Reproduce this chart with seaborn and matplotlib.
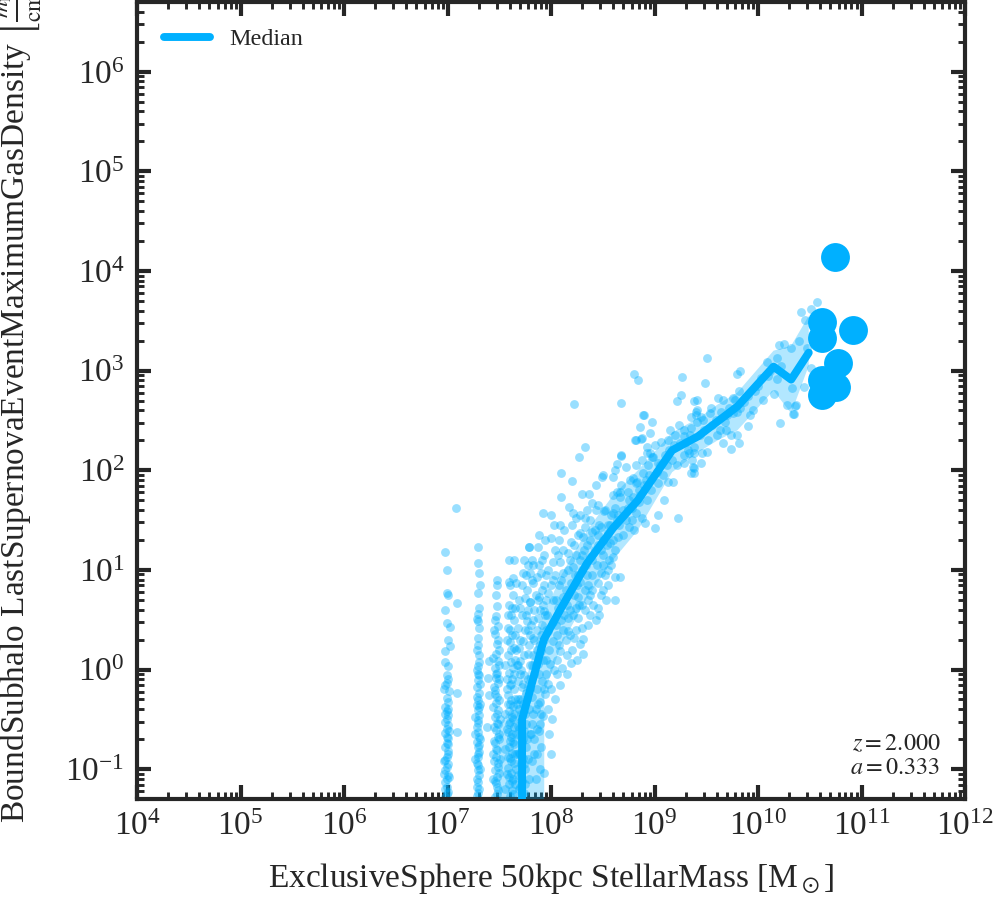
import numpy as np
import pandas as pd
import matplotlib
matplotlib.use("Agg")
import matplotlib.pyplot as plt
import seaborn as sns
from matplotlib.ticker import LogLocator, NullFormatter

# ---------------- data (log10 values) ----------------
# scatter: (log10 M*, log10 rho)
strip1 = [(6.98,1.18),(6.99,1.00),(6.99,0.77),(7.00,0.75),(7.09,0.67),(6.98,0.60),(6.99,0.47),(7.02,0.43),
          (7.02,0.24),(6.98,0.19),(7.00,0.04),(6.99,-0.06),(7.00,-0.10),(6.98,-0.16),(7.01,-0.22),(7.09,-0.24),
          (6.99,-0.29),(7.00,-0.33),(6.98,-0.38),(6.99,-0.42),(7.00,-0.46),(6.99,-0.50),(6.98,-0.53),(7.00,-0.56),
          (7.09,-0.63),(6.99,-0.60),(6.98,-0.64),(7.00,-0.69),(6.99,-0.74),(6.98,-0.78),(7.00,-0.82),(6.99,-0.88),
          (6.98,-0.91),(7.00,-0.95),(6.99,-0.98),(6.98,-1.01),(7.00,-1.06),(6.99,-1.10),(6.98,-1.13),(6.99,-1.18),
          (7.00,-1.23),(6.98,-1.28),(7.08,1.62),
          (6.97,-0.20),(6.98,-0.45),(6.99,-0.68),(7.00,-0.85),(6.97,-1.05),(6.98,-1.20),(7.01,-0.62),(7.00,-0.40),
          (6.99,-0.14),(6.98,0.08),(7.00,0.30),(6.97,-0.92),(6.99,-1.25),(7.01,-1.08),(7.00,-0.75)]
strip2 = [(7.29,1.23),(7.29,1.07),(7.30,0.97),(7.31,0.85),(7.29,0.77),(7.30,0.62),(7.29,0.56),(7.29,0.49),
          (7.30,0.42),(7.29,0.32),(7.28,0.51),(7.29,0.25),(7.30,0.15),(7.40,0.09),(7.29,0.04),(7.28,-0.01),
          (7.30,-0.06),(7.29,-0.11),(7.28,-0.18),(7.30,-0.24),(7.29,-0.31),(7.28,-0.36),(7.29,-0.41),(7.30,-0.46),
          (7.29,-0.51),(7.28,-0.58),(7.38,-0.58),(7.29,-0.63),(7.30,-0.68),(7.28,-0.73),(7.29,-0.78),(7.30,-0.83),
          (7.29,-0.88),(7.28,-0.94),(7.29,-1.01),(7.30,-1.06),(7.29,-1.13),(7.28,-1.18),(7.29,-1.24),(7.31,-0.35),
          (7.31,-0.70),(7.39,-0.09),(7.40,-0.26),(7.27,-0.48),(7.27,-0.90),
          (7.28,-0.28),(7.29,-0.54),(7.30,-0.76),(7.29,-0.96),(7.28,-1.10),(7.30,-1.20),(7.29,-0.05),(7.28,0.20),
          (7.31,-0.15),(7.27,-0.65),(7.30,-0.38),(7.29,-0.85),(7.28,-1.27),(7.30,0.08),(7.31,-1.00)]
strip3 = [(7.48,0.90),(7.48,0.85),(7.47,0.75),(7.48,0.64),(7.47,0.54),(7.49,0.44),(7.46,0.36),(7.48,0.26),
          (7.47,0.16),(7.49,0.09),(7.46,0.02),(7.48,-0.04),(7.47,-0.09),(7.49,-0.14),(7.46,-0.21),(7.48,-0.28),
          (7.47,-0.34),(7.49,-0.41),(7.46,-0.48),(7.48,-0.54),(7.47,-0.61),(7.49,-0.68),(7.46,-0.74),(7.48,-0.81),
          (7.47,-0.88),(7.49,-0.94),(7.46,-1.01),(7.48,-1.08),(7.47,-1.14),(7.49,-1.21),(7.46,-1.28),(7.45,-0.18),
          (7.50,-0.31),(7.45,-0.58),(7.50,-0.70),(7.45,-0.92),(7.50,-1.04),(7.44,0.12),(7.50,0.20),(7.45,0.40),
          (7.51,-0.50),(7.44,-0.85),
          (7.46,-0.25),(7.48,-0.45),(7.50,-0.65),(7.47,-0.80),(7.49,-0.98),(7.46,-1.12),(7.48,-1.25),(7.47,-0.05),
          (7.49,0.30),(7.46,0.50),(7.50,-0.10),(7.44,-0.38),(7.45,-0.72),(7.51,-0.90),(7.48,-1.18),(7.44,-1.10),
          (7.50,0.05),(7.49,-0.55)]
strip4 = [(7.59,1.10),(7.64,1.10),(7.60,0.85),(7.63,0.75),(7.59,0.65),(7.61,0.55),(7.64,0.50),(7.58,0.42),
          (7.62,0.35),(7.60,0.28),(7.64,0.22),(7.58,0.15),(7.61,0.08),(7.63,0.02),(7.59,-0.04),(7.62,-0.10),
          (7.60,-0.16),(7.64,-0.20),(7.58,-0.26),(7.61,-0.31),(7.63,-0.37),(7.59,-0.42),(7.62,-0.48),(7.60,-0.53),
          (7.64,-0.58),(7.58,-0.63),(7.61,-0.68),(7.63,-0.73),(7.59,-0.78),(7.62,-0.84),(7.60,-0.89),(7.64,-0.94),
          (7.58,-0.99),(7.61,-1.04),(7.63,-1.10),(7.59,-1.15),(7.62,-1.21),(7.60,-1.27),(7.56,-0.45),(7.56,-0.80),
          (7.57,0.30),(7.65,-0.30),(7.65,0.35),(7.66,-0.65),(7.57,-1.05),
          (7.57,-0.10),(7.58,-0.35),(7.59,-0.55),(7.60,-0.72),(7.61,-0.92),(7.62,-1.12),(7.63,-1.25),(7.64,-0.05),
          (7.65,0.10),(7.56,0.05),(7.57,-0.60),(7.58,-0.88),(7.59,-1.08),(7.60,0.40),(7.61,0.20),(7.62,0.62),
          (7.63,0.92),(7.64,-0.45),(7.65,-0.85),(7.66,-1.00),(7.56,-1.20),(7.57,-0.20),(7.58,0.55),(7.59,0.88),
          (7.60,-0.35),(7.61,-0.15),(7.62,-0.65),(7.63,-0.50),(7.64,-0.75),(7.65,-1.15),(7.66,0.20),(7.67,-0.35),
          (7.67,0.05),(7.67,-0.85)]
strip5 = [(7.79,1.23),(7.73,0.97),(7.72,0.85),(7.70,0.62),(7.68,0.42),(7.73,0.29),(7.70,0.09),(7.78,0.16),
          (7.77,0.49),(7.80,0.68),(7.80,0.97),(7.75,0.72),(7.69,0.22),(7.71,0.00),(7.74,-0.06),(7.68,-0.12),
          (7.72,-0.18),(7.76,-0.24),(7.70,-0.30),(7.73,-0.35),(7.69,-0.40),(7.75,-0.45),(7.71,-0.52),(7.68,-0.57),
          (7.74,-0.62),(7.70,-0.67),(7.72,-0.73),(7.76,-0.78),(7.69,-0.84),(7.73,-0.89),(7.71,-0.95),(7.75,-1.00),
          (7.68,-1.06),(7.72,-1.12),(7.70,-1.18),(7.74,-1.24),(7.78,-0.10),(7.79,-0.40),(7.77,-0.70),(7.80,0.35),
          (7.78,0.60),(7.66,0.87),(7.65,0.62),
          (7.68,-0.30),(7.69,-0.60),(7.70,-0.85),(7.71,-1.05),(7.72,-1.25),(7.73,-0.15),(7.74,0.15),(7.75,0.40),
          (7.76,0.55),(7.77,0.80),(7.78,1.05),(7.79,0.25),(7.80,-0.20),(7.68,0.05),(7.69,0.70),(7.70,0.30),
          (7.71,-0.45),(7.73,-0.70),(7.74,-0.95),(7.75,-1.15),(7.76,-0.55),(7.77,-0.30),(7.78,-0.90),(7.79,-1.10),
          (7.80,0.05),(7.72,0.55),(7.74,1.10),(7.76,0.95),(7.70,-0.05),(7.78,0.40),(7.69,-1.20),(7.80,-0.65)]
strip6 = [(7.87,1.23),(7.92,1.57),(7.93,1.15),(7.83,1.05),(7.90,0.97),(7.83,0.87),(7.93,0.85),(7.88,0.73),
          (7.80,0.68),(7.87,0.52),(7.93,0.59),(7.83,0.32),(7.90,0.19),(7.87,0.06),(7.84,-0.05),(7.91,-0.12),
          (7.86,-0.20),(7.82,-0.28),(7.89,-0.33),(7.85,-0.40),(7.92,-0.47),(7.82,-0.55),(7.88,-0.62),(7.84,-0.70),
          (7.90,-0.78),(7.86,-0.85),(7.82,-0.92),(7.93,-1.04),(7.89,-1.00),(7.85,-1.10),(7.95,0.40),(7.95,0.70),
          (7.91,0.45),(7.84,0.60),(7.86,0.93),(7.81,0.45),(7.89,-0.55),(7.94,-0.25),(7.95,0.10),(7.83,0.15),
          (7.81,-0.10),(7.82,0.05),(7.83,-0.45),(7.84,0.30),(7.85,0.75),(7.86,0.20),(7.87,-0.35),(7.88,1.05),
          (7.89,0.60),(7.90,0.35),(7.91,0.80),(7.92,0.10),(7.93,-0.20),(7.94,0.55),(7.95,0.95),(7.81,-0.65),
          (7.82,0.90),(7.83,0.50),(7.84,-0.85),(7.85,0.05),(7.86,0.40),(7.87,0.70),(7.88,-0.05),(7.89,0.25),
          (7.90,-0.45),(7.91,1.10),(7.92,0.65),(7.93,0.30),(7.94,1.30),(7.95,-0.05),(7.86,-0.60),(7.88,1.35),
          (7.82,1.10)]
cloud_low = [(8.00,1.32),(7.97,1.00),(8.02,1.08),(8.09,1.08),(8.16,1.17),(8.19,1.28),(8.26,1.35),(8.31,1.33),
             (8.02,0.90),(8.12,0.97),(8.21,1.03),(8.28,1.10),(8.38,1.13),(8.48,1.20),(8.57,1.27),(8.65,1.33),
             (8.60,1.13),(8.55,1.00),(8.48,0.97),(8.45,0.87),(8.53,0.70),(8.38,0.55),(8.62,0.93),(8.33,0.80),
             (8.26,0.73),(8.19,0.87),(8.12,0.73),(8.07,0.62),(8.02,0.70),(7.97,0.77),(8.16,0.52),(8.26,0.52),
             (8.30,0.42),(8.22,0.32),(8.16,0.39),(8.28,0.26),(8.31,0.16),(8.19,0.07),(8.09,0.19),(8.02,0.29),
             (7.97,0.39),(7.99,0.06),(8.11,0.02),(8.38,0.75),(8.45,0.62),(8.01,-0.50),(8.09,-0.16),(8.04,-0.30),
             (7.98,-0.65),(8.00,-0.85),(7.97,-0.40),(8.06,0.10),(8.15,-0.05),(8.20,0.20),(8.31,0.31),(8.25,0.10),
             (8.36,0.45),(8.41,0.65),(8.46,0.55),(8.50,0.80),(8.55,0.85),(8.58,1.05),(8.67,0.93),(8.62,0.70),
             (8.43,0.50),(8.05,0.45),(8.13,0.55),(8.08,0.85),(8.23,0.95),(8.04,1.20),(8.14,0.30),(8.24,0.62),
             (7.96,0.55),(7.98,0.20),(8.00,0.85),(8.02,0.48),(8.04,0.95),(8.06,0.35),(8.08,1.30),(8.10,0.50),
             (8.12,1.20),(8.14,0.80),(8.16,1.00),(8.18,0.60),(8.20,1.45),(8.22,0.75),(8.24,1.15),(8.26,0.95),
             (8.28,1.55),(8.30,0.65),(8.32,1.20),(8.34,1.05),(8.36,0.85),(8.38,1.50),(8.40,0.95),(8.42,1.20),
             (8.44,1.05),(8.46,1.45),(8.48,0.75),(8.50,1.15),(8.52,1.60),(8.54,1.25),(8.56,1.10),(8.58,1.55),
             (8.60,1.30),(7.97,-0.15),(8.00,-0.20),(8.03,0.00),(8.06,-0.05),(8.08,0.25),(8.12,0.40),(8.15,0.15),
             (8.18,0.35),(8.21,0.55),(8.24,0.40),(8.27,0.65),(8.33,0.60),(8.36,0.70),(8.05,0.70),(8.10,0.90),
             (8.15,0.65),(8.18,1.10),(8.22,1.25),(8.13,1.40),(8.07,1.15),(8.03,1.45),(8.28,0.88),(8.35,1.25),
             (8.45,1.35),(8.52,0.95),(8.40,0.80),(8.30,1.15)]
cloud_mid = [(8.10,1.97),(8.20,1.89),(8.43,1.85),(8.49,1.93),(8.10,1.73),(8.30,1.76),(8.37,1.76),(8.40,1.67),
             (8.45,1.65),(8.09,1.45),(8.21,1.57),(8.24,1.52),(8.33,1.52),(8.51,1.59),(8.60,1.75),(8.67,1.78),
             (8.74,1.78),(8.83,1.88),(8.89,1.97),(8.99,2.13),(8.96,2.17),(9.03,1.87),(9.13,1.88),(9.18,1.88),
             (9.09,1.70),(9.23,1.52),(9.03,1.55),(9.00,1.42),(8.91,1.47),(8.79,1.92),(8.82,1.87),(8.67,1.73),
             (8.64,1.78),(8.79,1.73),(8.85,1.68),(8.74,1.62),(8.60,1.57),(8.64,1.50),(8.57,1.45),(8.82,1.57),
             (8.88,1.52),(8.93,1.70),(8.80,1.40),(8.75,1.43),(8.55,1.37),(8.40,1.38),(8.35,1.60),(8.33,1.43),
             (8.28,1.37),(8.48,1.43),(8.43,1.60),(8.40,1.10),(8.45,1.25),(8.50,1.30),(8.55,1.45),(8.65,1.55),
             (8.70,1.60),(8.75,1.70),(8.85,1.80),(8.90,1.85),(8.70,1.35),(8.50,1.05),(8.35,0.95),(8.25,0.85),
             (8.30,1.00),(8.42,1.40),(8.38,1.30),(8.62,1.20),(8.78,1.50),(8.95,1.95),(9.05,2.05),(9.10,2.15),
             (8.00,1.55),(8.17,1.63),(7.79,1.23),
             (8.62,1.62),(8.66,1.45),(8.68,1.85),(8.72,1.50),(8.76,1.90),(8.78,1.62),(8.82,2.05),(8.86,1.75),
             (8.88,2.10),(8.92,1.90),(8.94,2.05),(8.97,1.80),(9.00,2.25),(9.02,1.98),(9.06,2.28),(9.08,1.95),
             (9.12,2.05),(9.15,2.40),(9.19,2.25),(9.22,2.05),(9.24,2.45),(9.30,2.28),(9.34,2.35),(9.36,2.10)]
cloud_high = [(8.80,2.97),(8.84,2.91),(9.27,2.94),(8.22,2.66),(8.68,2.67),(8.90,2.55),(8.98,2.48),(8.86,2.43),
              (9.26,2.76),(9.22,2.69),(9.38,2.69),(8.82,2.30),(8.87,2.31),(8.33,2.23),(8.27,2.13),(8.68,2.14),
              (8.64,2.06),(8.72,2.03),(8.62,2.00),(8.60,1.93),(9.13,2.30),(9.20,2.35),(9.28,2.40),(9.35,2.42),
              (9.32,2.20),(9.37,2.03),(9.38,1.97),(8.93,2.17),(9.03,2.07),(9.17,2.10),(9.28,2.15),(9.38,2.17),
              (9.35,2.53),(9.40,2.58),(9.41,2.48),(9.51,3.13),(9.49,2.88),(9.80,2.97),(9.83,3.00),(10.09,3.09),
              (10.20,3.26),(10.25,3.27),(10.32,3.23),(10.18,3.13),(9.41,2.71),(9.61,2.73),(9.66,2.70),(9.76,2.73),
              (9.78,2.70),(9.82,2.80),(9.95,2.60),(10.03,2.93),(10.15,2.77),(10.18,2.92),(10.33,2.83),(10.36,2.64),
              (10.35,2.56),(10.21,2.47),(9.90,2.44),(9.82,2.27),(9.74,2.21),(9.74,2.35),(9.80,2.35),(9.66,2.27),
              (9.63,2.40),(9.69,2.40),(9.59,2.50),(9.54,2.57),(9.47,2.50),(9.45,2.53),(9.41,2.60),(9.40,2.55),
              (9.76,2.57),(9.80,2.58),(9.83,2.62),(9.46,2.17),(9.51,2.18),(9.45,2.07),(9.38,2.02),(9.35,1.97),
              (9.28,2.07),(9.33,2.17),(9.25,2.27),(9.38,2.23),(9.28,2.34),(9.14,2.20),(8.98,2.13),(8.93,2.23),
              (8.96,2.37),(8.88,2.32),(8.81,2.30),(8.89,2.55),(8.68,2.15),(8.50,1.95),(10.57,3.69),(10.51,3.62),
              (10.42,3.59),(10.45,3.51),(10.47,3.23),(10.51,3.03),(10.44,2.84),(10.37,2.65),(10.34,2.56),
              (9.55,2.62),(9.70,2.55),(10.00,2.85),(10.10,2.95),(9.90,2.75),
              (9.44,2.35),(9.48,2.40),(9.52,2.30),(9.56,2.45),(9.60,2.35),(9.64,2.58),(9.68,2.48),(9.72,2.62),
              (9.86,2.68),(9.92,2.55),(9.97,2.80),(10.05,2.70),(10.12,3.00),(10.22,3.05),(10.28,2.65),(10.40,3.30)]

# binned median and 16-84 percentile band
med_logm = [7.72, 7.72, 7.93, 8.10, 8.35, 8.60, 8.84, 9.17, 9.42, 9.61, 9.80, 10.15, 10.32, 10.49]
med_logrho = [-6.0, -0.50, 0.30, 0.62, 1.07, 1.42, 1.70, 2.20, 2.34, 2.49, 2.64, 3.04, 2.91, 3.18]
band_logm = [7.50, 7.72, 7.93, 7.935, 8.10, 8.35, 8.60, 8.84, 9.17, 9.42, 9.61, 9.80, 10.15, 10.32, 10.49]
band_lo = [-6.0, -6.0, -6.0, -0.24, 0.25, 0.72, 1.10, 1.40, 1.98, 2.18, 2.30, 2.40, 2.80, 2.57, 3.05]
band_hi = [-0.55, -0.25, 0.55, 0.56, 0.95, 1.40, 1.75, 2.00, 2.38, 2.52, 2.66, 2.78, 3.20, 3.25, 3.55]

# massive individual objects
big_logm = [10.74, 10.62, 10.915, 10.62, 10.77, 10.62, 10.75, 10.62]
big_logrho = [4.14, 3.49, 3.41, 3.33, 3.08, 2.91, 2.84, 2.76]

redshift_text = "$z = 2.000$\n$a = 0.333$"
xlabel = r"ExclusiveSphere 50kpc StellarMass [M$_\odot$]"
ylabel = (r"BoundSubhalo LastSupernovaEventMaximumGasDensity "
          r"$\left[\frac{m_{\rm H}}{{\rm cm}^{3}}\right]$")

# ---------------- style ----------------
sns.set_style("ticks")
plt.rcParams["font.family"] = ["Liberation Serif", "DejaVu Serif"]
plt.rcParams["mathtext.fontset"] = "stix"
plt.rcParams["axes.linewidth"] = 1.0
COL = "#00B0FF"

pts = strip1 + strip2 + strip3 + strip4 + strip5 + strip6 + cloud_low + cloud_mid + cloud_high
df = pd.DataFrame(pts, columns=["logm", "logrho"])
df["m"] = 10.0 ** df["logm"]
df["rho"] = 10.0 ** df["logrho"]
med = pd.DataFrame({"m": 10.0 ** np.array(med_logm), "rho": 10.0 ** np.array(med_logrho)})
big = pd.DataFrame({"m": 10.0 ** np.array(big_logm), "rho": 10.0 ** np.array(big_logrho)})

fig = plt.figure(figsize=(3.32, 3.0), dpi=300)
ax = fig.add_axes([0.1376, 0.1122, 0.8313, 0.8856])
ax.set_xscale("log")
ax.set_yscale("log")

sns.scatterplot(data=df, x="m", y="rho", ax=ax, color=COL, s=4.5, alpha=0.4,
                linewidth=0, legend=False, zorder=2)
ax.fill_between(10.0 ** np.array(band_logm), 10.0 ** np.array(band_lo), 10.0 ** np.array(band_hi),
                color=COL, alpha=0.3, linewidth=0, zorder=3)
sns.lineplot(data=med, x="m", y="rho", ax=ax, color=COL, lw=1.9, sort=False,
             estimator=None, label="Median", zorder=4)
sns.scatterplot(data=big, x="m", y="rho", ax=ax, color=COL, s=48, alpha=1.0,
                linewidth=0, legend=False, zorder=5)

ax.set_xlim(1e4, 1e12)
ax.set_ylim(10 ** -1.30, 10 ** 6.70)

for axis in (ax.xaxis, ax.yaxis):
    axis.set_major_locator(LogLocator(base=10, numticks=100))
    axis.set_minor_locator(LogLocator(base=10, subs=np.arange(2, 10), numticks=100))
    axis.set_minor_formatter(NullFormatter())
ax.tick_params(which="both", direction="in", top=True, right=True)
ax.tick_params(which="major", length=3.4, width=1.0, labelsize=8.0, pad=3)
ax.tick_params(which="minor", length=1.7, width=0.7)
for sp in ax.spines.values():
    sp.set_linewidth(1.0)
    sp.set_visible(True)

ax.set_xlabel(xlabel, fontsize=8.0)
ax.set_ylabel(ylabel, fontsize=8.0)
ax.xaxis.set_label_coords(0.5, -0.078)
ax.yaxis.set_label_coords(-0.112, 0.505)

ax.text(0.97, 0.025, redshift_text, transform=ax.transAxes, ha="right", va="bottom",
        fontsize=5.8, linespacing=1.2)
ax.legend(loc="upper left", frameon=False, fontsize=5.8, handlelength=1.9,
          borderaxespad=0.7, handletextpad=0.8)

fig.savefig("out.png", dpi=300)
